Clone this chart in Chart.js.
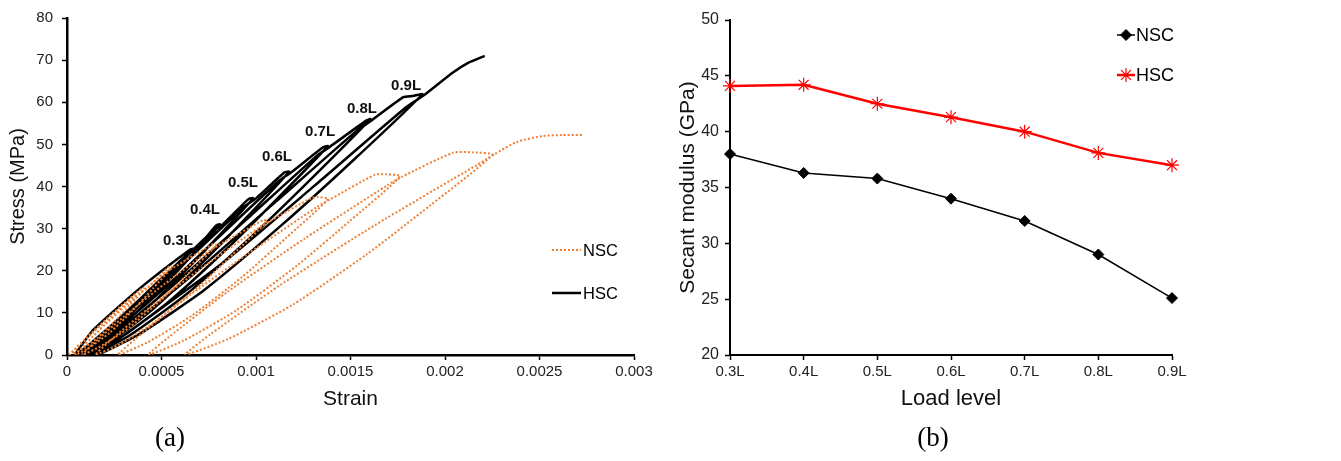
<!DOCTYPE html>
<html>
<head>
<meta charset="utf-8">
<script src="https://cdn.jsdelivr.net/npm/chart.js@4.4.1/dist/chart.umd.min.js"></script>
<style>
body{margin:0;background:#fff;width:1341px;height:461px;overflow:hidden;position:relative}
#boxA{position:absolute;left:0;top:0;width:670px;height:461px}
#boxB{position:absolute;left:670px;top:0;width:671px;height:461px}
.tag{position:absolute;top:421px;width:80px;text-align:center;font:27px/32px "Liberation Serif",serif;color:#000}
</style>
</head>
<body>
<div id="boxA"><canvas id="graphA"></canvas></div>
<div id="boxB"><canvas id="graphB"></canvas></div>
<div class="tag" style="left:130px">(a)</div>
<div class="tag" style="left:893px">(b)</div>
<script>
// (a) stress-strain, strain kept in microstrain, labels show real strain
const strainTicks = ['0', '0.0005', '0.001', '0.0015', '0.002', '0.0025', '0.003'];

const nscMicrostrain = [10, 100, 250, 397, 410,
    332, 250, 157, 75, 20, 51, 141, 262, 391, 420, 540, 555,
    453, 346, 224, 116, 45, 86, 203, 361, 530, 565, 772, 790,
    648, 499, 329, 179, 80, 137, 300, 520, 755, 800, 1037, 1060,
    878, 687, 469, 277, 150, 223, 432, 714, 1015, 1070, 1296, 1330, 1381,
    1159, 926, 659, 426, 270, 359, 614, 959, 1325, 1390, 1630, 1690, 1762,
    1496, 1216, 896, 616, 430, 537, 843, 1256, 1695, 1772, 2042, 2150, 2249,
    1924, 1583, 1193, 852, 625, 755, 1128, 1632, 2168, 2260, 2381, 2519, 2620, 2730];
const nscStress = [0, 4, 10.2, 15.8, 15.7,
    11.8, 7.9, 3.9, 1.3, 0, 1.6, 5.5, 10.2, 14.9, 15.6, 21.0, 20.9,
    15.7, 10.5, 5.2, 1.7, 0, 2.1, 7.3, 13.6, 19.9, 20.8, 26.3, 26.1,
    19.6, 13.1, 6.5, 2.1, 0, 2.6, 9.1, 17.0, 24.8, 26.0, 32.0, 31.8,
    23.9, 15.9, 8.0, 2.5, 0, 3.2, 11.1, 20.7, 30.2, 31.7, 37.3, 37.5, 37.0,
    27.8, 18.5, 9.3, 3.0, 0, 3.7, 13.0, 24.1, 35.2, 36.9, 42.8, 42.9, 42.4,
    31.8, 21.2, 10.6, 3.4, 0, 4.2, 14.8, 27.6, 40.3, 42.3, 48.0, 48.1, 47.5,
    35.6, 23.8, 11.9, 3.8, 0, 4.8, 16.6, 30.9, 45.1, 47.6, 50.6, 52.0, 52.2, 52.2];

const hscMicrostrain = [40, 140, 390, 650, 670,
    540, 403, 255, 131, 50, 118, 279, 459, 639, 680, 790, 810,
    654, 490, 311, 162, 65, 147, 341, 557, 773, 820, 960, 985,
    795, 596, 379, 198, 80, 180, 415, 677, 940, 995, 1150, 1175,
    949, 713, 455, 240, 100, 218, 498, 810, 1121, 1185, 1355, 1380,
    1114, 836, 532, 279, 115, 254, 583, 950, 1317, 1390, 1585, 1605,
    1296, 973, 620, 326, 135, 297, 679, 1105, 1532, 1615, 1780, 1830, 1880,
    1519, 1140, 728, 384, 160, 349, 820, 1310, 1794, 1890, 2040, 2120, 2210];
const hscStress = [0, 6, 16, 25.0, 25.2,
    18.9, 12.6, 6.3, 2.0, 0, 2.5, 8.8, 16.4, 24.0, 25.0, 30.8, 31.0,
    23.3, 15.5, 7.8, 2.5, 0, 3.1, 10.9, 20.2, 29.5, 30.8, 37.0, 37.2,
    27.9, 18.6, 9.3, 3.0, 0, 3.7, 13.0, 24.2, 35.3, 37.0, 43.3, 43.5,
    32.6, 21.8, 10.9, 3.5, 0, 4.4, 15.2, 28.3, 41.3, 43.3, 49.3, 49.6,
    37.2, 24.8, 12.4, 4.0, 0, 5.0, 17.4, 32.2, 47.1, 49.4, 55.7, 56.0,
    42, 28, 14, 4.5, 0, 5.6, 19.6, 36.4, 53.2, 55.8, 61.2, 61.5, 61.9,
    46.4, 31.0, 15.5, 5.0, 0, 6.2, 21.7, 40.2, 58.8, 61.7, 67, 69.3, 71];

const tagText = ['0.3L', '0.4L', '0.5L', '0.6L', '0.7L', '0.8L', '0.9L'];
const tagMicrostrain = [587, 730, 931, 1111, 1339, 1561, 1794];
const tagStress = [27.1, 34.4, 40.9, 47.1, 52.9, 58.4, 64.0];

// (b) secant modulus
const loadLevels = ['0.3L', '0.4L', '0.5L', '0.6L', '0.7L', '0.8L', '0.9L'];
const nscSecant = [38.0, 36.3, 35.8, 34.0, 32.0, 29.0, 25.1];
const hscSecant = [44.1, 44.2, 42.5, 41.3, 40.0, 38.1, 37.0];

const SANS = "'Liberation Sans', Arial, sans-serif";
const NARROW = "'Liberation Sans Narrow', 'Arial Narrow', 'Liberation Sans', sans-serif";

function toPoints(xs, ys) {
    return xs.map((x, i) => ({x: x, y: ys[i]}));
}

const legendA = {
    id: 'legendA',
    afterDraw(chart) {
        const ctx = chart.ctx;
        ctx.save();
        chart.data.datasets.forEach((ds, i) => {
            const y = 250 + i * 43;
            ctx.strokeStyle = ds.borderColor;
            ctx.lineWidth = ds.borderWidth;
            ctx.setLineDash(ds.borderDash || []);
            ctx.beginPath();
            ctx.moveTo(552, y);
            ctx.lineTo(581, y);
            ctx.stroke();
            ctx.setLineDash([]);
            ctx.fillStyle = '#000';
            ctx.font = '16.5px ' + SANS;
            ctx.textBaseline = 'middle';
            ctx.fillText(ds.label, 583, y + 1);
        });
        ctx.restore();
    }
};

const loadTags = {
    id: 'loadTags',
    afterDatasetsDraw(chart) {
        const {ctx, scales: {x, y}} = chart;
        ctx.save();
        ctx.font = 'bold 15px ' + SANS;
        ctx.fillStyle = '#111';
        ctx.textAlign = 'center';
        ctx.textBaseline = 'middle';
        tagText.forEach((t, i) => {
            ctx.fillText(t, x.getPixelForValue(tagMicrostrain[i]), y.getPixelForValue(tagStress[i]));
        });
        ctx.restore();
    }
};

const legendB = {
    id: 'legendB',
    afterDraw(chart) {
        const ctx = chart.ctx;
        ctx.save();
        chart.data.datasets.forEach((ds, i) => {
            const y = 35 + i * 40;
            ctx.strokeStyle = ds.borderColor;
            ctx.lineWidth = ds.borderWidth;
            ctx.beginPath();
            ctx.moveTo(447, y);
            ctx.lineTo(465, y);
            ctx.stroke();
            ctx.fillStyle = ds.pointBackgroundColor;
            ctx.strokeStyle = ds.pointBorderColor;
            ctx.lineWidth = ds.pointBorderWidth;
            Chart.helpers.drawPoint(ctx, {pointStyle: ds.pointStyle, radius: ds.pointRadius, rotation: 0, borderWidth: ds.pointBorderWidth}, 456, y);
            ctx.fillStyle = '#000';
            ctx.font = '18px ' + NARROW;
            ctx.textBaseline = 'middle';
            ctx.fillText(ds.label, 466, y + 1);
        });
        ctx.restore();
    }
};

const ctxA = document.getElementById('graphA');
const graphA = new Chart(ctxA, {
    type: 'scatter',
    data: {
        datasets: [{
            label: 'NSC',
            data: toPoints(nscMicrostrain, nscStress),
            showLine: true,
            borderColor: '#ef7f32',
            borderWidth: 2,
            borderDash: [2, 2],
            pointRadius: 0,
            tension: 0.2
        }, {
            label: 'HSC',
            data: toPoints(hscMicrostrain, hscStress),
            showLine: true,
            borderColor: '#000',
            borderWidth: 2.5,
            pointRadius: 0,
            tension: 0.2
        }]
    },
    options: {
        responsive: true,
        maintainAspectRatio: false,
        animation: false,
        layout: {padding: {left: 0, right: 36, top: 15, bottom: 46}},
        plugins: {legend: {display: false}, tooltip: {enabled: false}},
        scales: {
            x: {
                type: 'linear', min: 0, max: 3000,
                ticks: {stepSize: 500, padding: 3, maxRotation: 0, color: '#222', font: {family: SANS, size: 15},
                    callback: (v, i) => strainTicks[i]},
                grid: {drawOnChartArea: false, tickLength: 5, tickColor: '#000', tickWidth: 1.5},
                border: {color: '#000', width: 2.5},
                title: {display: true, text: 'Strain', color: '#111', font: {family: SANS, size: 21}, padding: {top: 0, bottom: 3}},
                afterFit: s => { s.height = 60; }
            },
            y: {
                min: 0, max: 80,
                ticks: {stepSize: 10, padding: 9, color: '#222', font: {family: SANS, size: 15}},
                grid: {drawOnChartArea: false, tickLength: 5, tickColor: '#000', tickWidth: 1.5},
                border: {color: '#000', width: 2.5},
                title: {display: true, text: 'Stress (MPa)', color: '#111', font: {family: SANS, size: 20}, padding: {top: 6, bottom: 0}},
                afterFit: s => { s.width = 67; }
            }
        }
    },
    plugins: [legendA, loadTags]
});

const ctxB = document.getElementById('graphB');
const graphB = new Chart(ctxB, {
    type: 'line',
    data: {
        labels: loadLevels,
        datasets: [{
            label: 'NSC',
            data: nscSecant,
            borderColor: '#000',
            borderWidth: 1.5,
            pointStyle: 'rectRot',
            pointRadius: 5.5,
            pointBackgroundColor: '#000',
            pointBorderColor: '#000',
            pointBorderWidth: 1,
            clip: false
        }, {
            label: 'HSC',
            data: hscSecant,
            borderColor: '#ff0000',
            borderWidth: 2.5,
            pointStyle: 'star',
            pointRadius: 7,
            pointBackgroundColor: '#ff0000',
            pointBorderColor: '#ff0000',
            pointBorderWidth: 1.2,
            clip: false
        }]
    },
    options: {
        responsive: true,
        maintainAspectRatio: false,
        animation: false,
        layout: {padding: {left: 0, right: 169, top: 20, bottom: 46}},
        plugins: {legend: {display: false}, tooltip: {enabled: false}},
        scales: {
            x: {
                offset: false,
                ticks: {padding: 3, maxRotation: 0, color: '#222', font: {family: NARROW, size: 15}},
                grid: {drawOnChartArea: false, offset: false, tickLength: 5, tickColor: '#000', tickWidth: 1.5},
                border: {color: '#000', width: 2},
                title: {display: true, text: 'Load level', color: '#111', font: {family: NARROW, size: 22}, padding: {top: 0, bottom: 3}},
                afterFit: s => { s.height = 60; }
            },
            y: {
                min: 20, max: 50,
                ticks: {stepSize: 5, padding: 6, color: '#222', font: {family: NARROW, size: 16}},
                grid: {drawOnChartArea: false, tickLength: 5, tickColor: '#000', tickWidth: 1.5},
                border: {color: '#000', width: 2},
                title: {display: true, text: 'Secant modulus (GPa)', color: '#111', font: {family: SANS, size: 21}, padding: {top: 6, bottom: 0}},
                afterFit: s => { s.width = 60; }
            }
        }
    },
    plugins: [legendB]
});
</script>
</body>
</html>
